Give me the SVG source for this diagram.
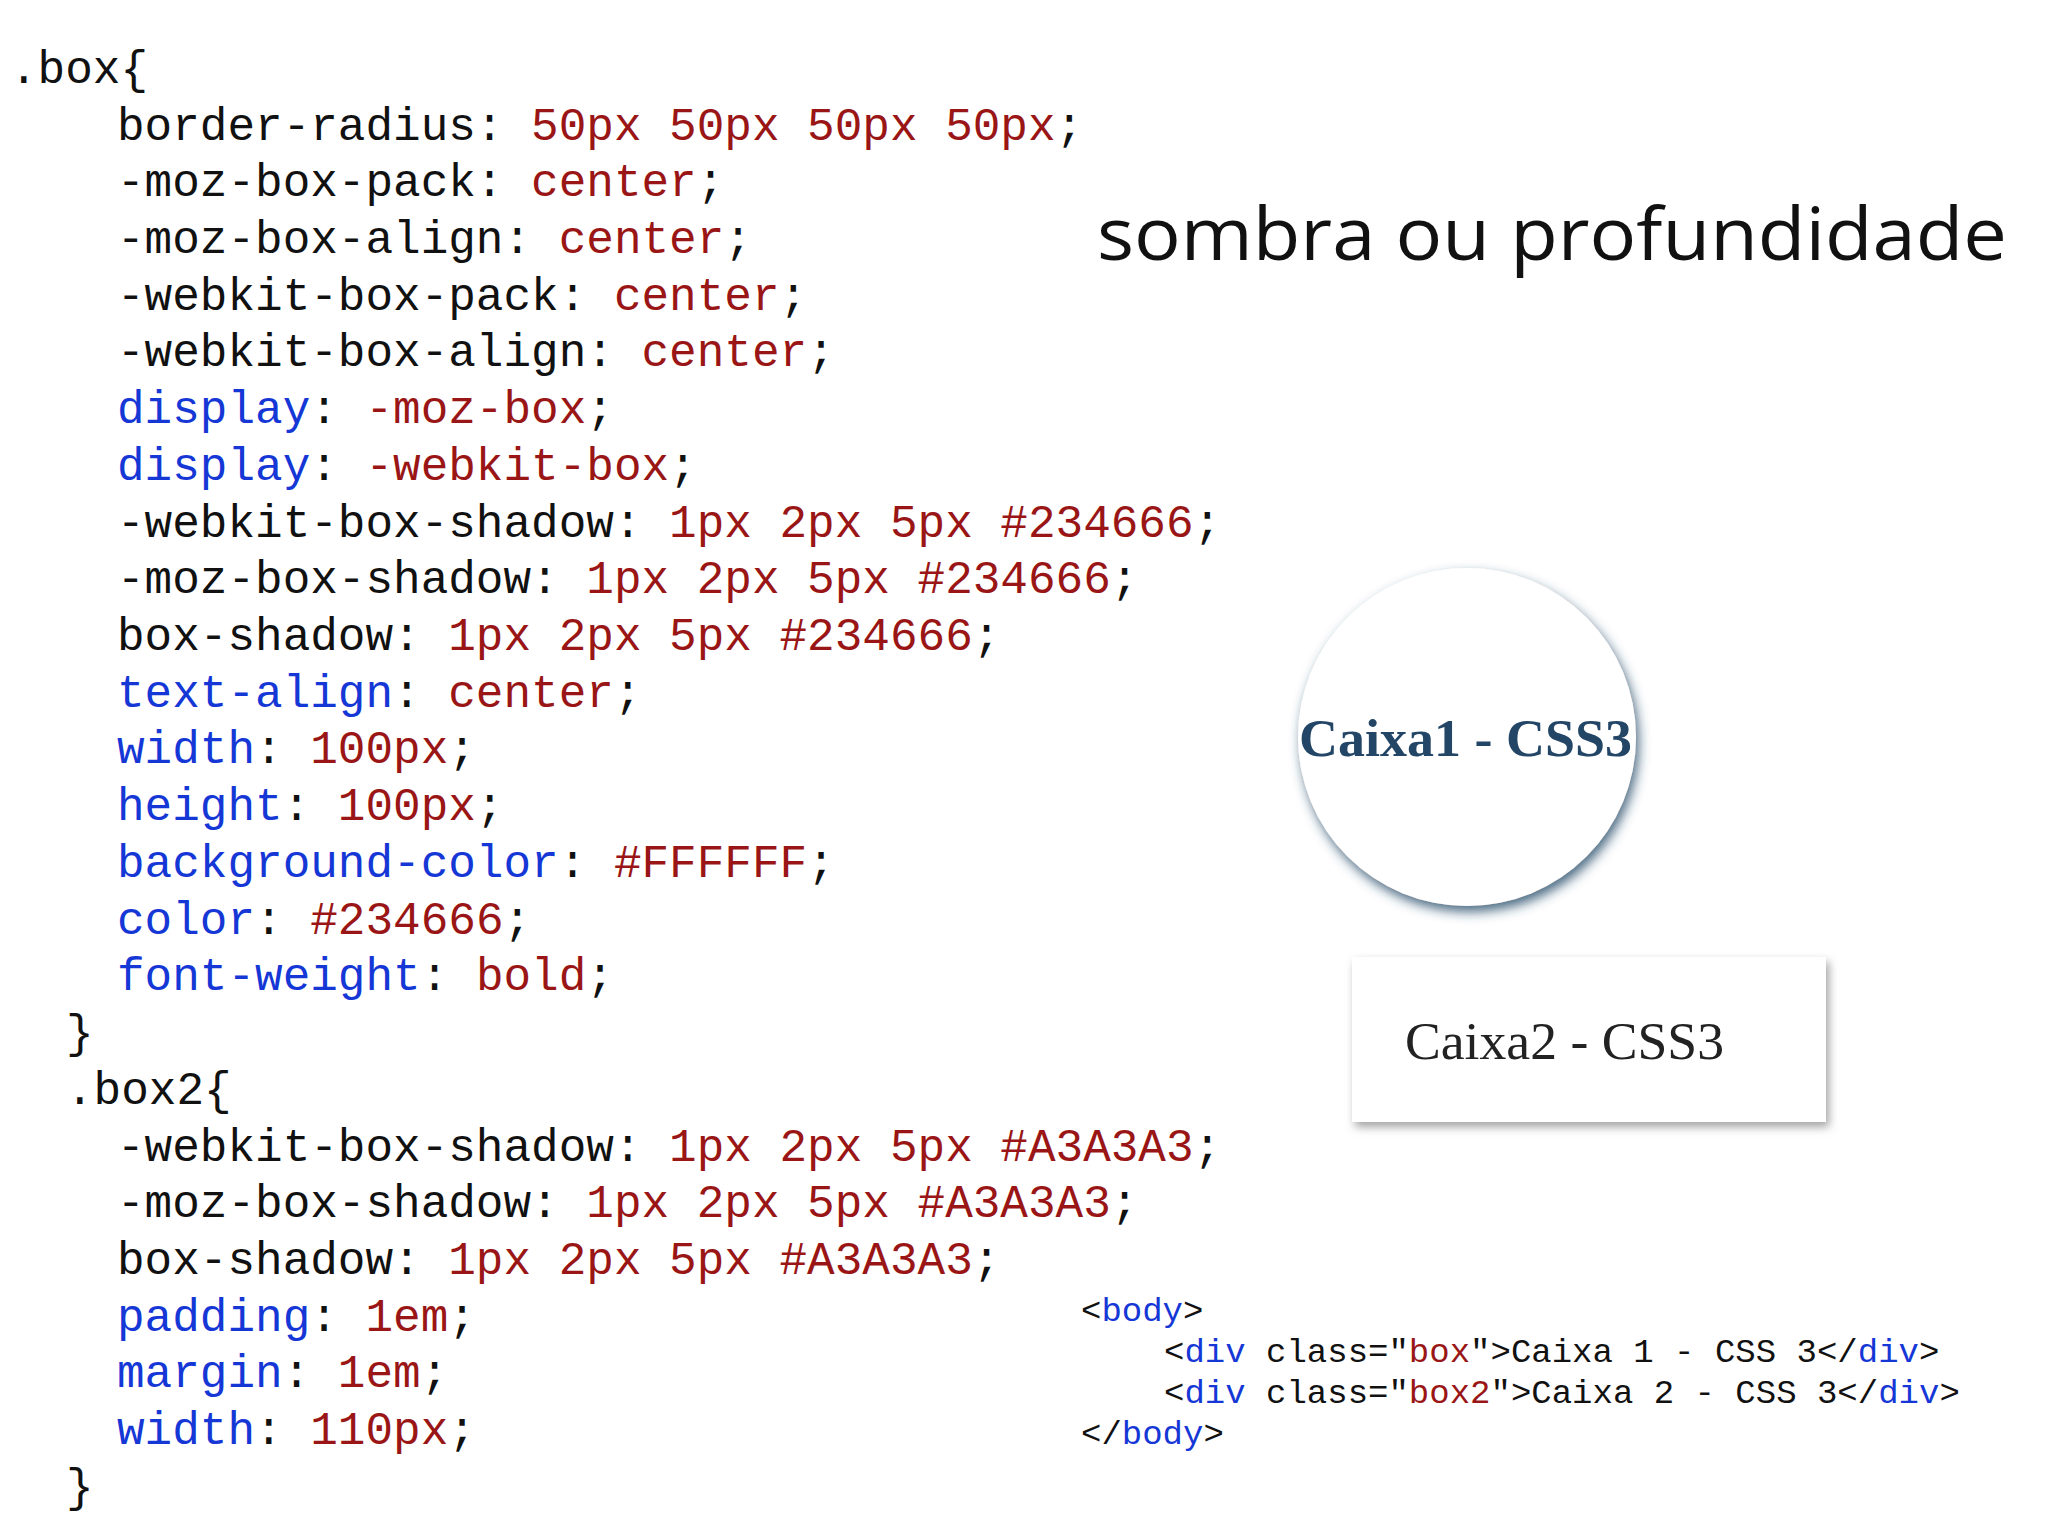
<svg xmlns="http://www.w3.org/2000/svg" width="2048" height="1536" viewBox="0 0 2048 1536">
<defs>
<style>
.c{font-family:"Liberation Mono","DejaVu Sans Mono",monospace;font-size:46px;fill:#111}
.h{font-family:"Liberation Mono","DejaVu Sans Mono",monospace;font-size:34px;fill:#111}
.r{fill:#9a1616}.b{fill:#1537d6}
</style>
<filter id="sh" x="-20%" y="-20%" width="140%" height="140%"><feDropShadow dx="3" dy="6" stdDeviation="6" flood-color="#234666" flood-opacity="0.8"/></filter>
<filter id="sh2" x="-20%" y="-20%" width="140%" height="140%"><feDropShadow dx="3" dy="5" stdDeviation="5" flood-color="#a3a3a3"/></filter>
</defs>
<rect width="2048" height="1536" fill="#fff"/>
<g id="css" transform="translate(-3,-3)">
<text class="c" x="13" y="86" xml:space="preserve">.box{</text>
<text class="c" x="120" y="143" xml:space="preserve">border-radius: <tspan class="r">50px 50px 50px 50px</tspan>;</text>
<text class="c" x="120" y="199" xml:space="preserve">-moz-box-pack: <tspan class="r">center</tspan>;</text>
<text class="c" x="120" y="256" xml:space="preserve">-moz-box-align: <tspan class="r">center</tspan>;</text>
<text class="c" x="120" y="313" xml:space="preserve">-webkit-box-pack: <tspan class="r">center</tspan>;</text>
<text class="c" x="120" y="369" xml:space="preserve">-webkit-box-align: <tspan class="r">center</tspan>;</text>
<text class="c" x="120" y="426" xml:space="preserve"><tspan class="b">display</tspan>: <tspan class="r">-moz-box</tspan>;</text>
<text class="c" x="120" y="483" xml:space="preserve"><tspan class="b">display</tspan>: <tspan class="r">-webkit-box</tspan>;</text>
<text class="c" x="120" y="540" xml:space="preserve">-webkit-box-shadow: <tspan class="r">1px 2px 5px #234666</tspan>;</text>
<text class="c" x="120" y="596" xml:space="preserve">-moz-box-shadow: <tspan class="r">1px 2px 5px #234666</tspan>;</text>
<text class="c" x="120" y="653" xml:space="preserve">box-shadow: <tspan class="r">1px 2px 5px #234666</tspan>;</text>
<text class="c" x="120" y="710" xml:space="preserve"><tspan class="b">text-align</tspan>: <tspan class="r">center</tspan>;</text>
<text class="c" x="120" y="766" xml:space="preserve"><tspan class="b">width</tspan>: <tspan class="r">100px</tspan>;</text>
<text class="c" x="120" y="823" xml:space="preserve"><tspan class="b">height</tspan>: <tspan class="r">100px</tspan>;</text>
<text class="c" x="120" y="880" xml:space="preserve"><tspan class="b">background-color</tspan>: <tspan class="r">#FFFFFF</tspan>;</text>
<text class="c" x="120" y="937" xml:space="preserve"><tspan class="b">color</tspan>: <tspan class="r">#234666</tspan>;</text>
<text class="c" x="120" y="993" xml:space="preserve"><tspan class="b">font-weight</tspan>: <tspan class="r">bold</tspan>;</text>
<text class="c" x="69" y="1050" xml:space="preserve">}</text>
<text class="c" x="69" y="1107" xml:space="preserve">.box2{</text>
<text class="c" x="120" y="1164" xml:space="preserve">-webkit-box-shadow: <tspan class="r">1px 2px 5px #A3A3A3</tspan>;</text>
<text class="c" x="120" y="1220" xml:space="preserve">-moz-box-shadow: <tspan class="r">1px 2px 5px #A3A3A3</tspan>;</text>
<text class="c" x="120" y="1277" xml:space="preserve">box-shadow: <tspan class="r">1px 2px 5px #A3A3A3</tspan>;</text>
<text class="c" x="120" y="1334" xml:space="preserve"><tspan class="b">padding</tspan>: <tspan class="r">1em</tspan>;</text>
<text class="c" x="120" y="1390" xml:space="preserve"><tspan class="b">margin</tspan>: <tspan class="r">1em</tspan>;</text>
<text class="c" x="120" y="1447" xml:space="preserve"><tspan class="b">width</tspan>: <tspan class="r">110px</tspan>;</text>
<text class="c" x="69" y="1504" xml:space="preserve">}</text>
</g>
<g id="title"><text x="1097" y="260" font-family="'Open Sans','Liberation Sans',sans-serif" font-size="73" fill="#111" textLength="910" lengthAdjust="spacingAndGlyphs">sombra ou profundidade</text></g>
<g id="box1">
<circle cx="1467" cy="737" r="169" fill="#fff" filter="url(#sh)"/>
<text x="1299" y="756" font-family="'Liberation Serif',serif" font-weight="bold" font-size="52" fill="#234666" textLength="333" lengthAdjust="spacingAndGlyphs">Caixa1 - CSS3</text>
</g>
<g id="box2">
<rect x="1352" y="957" width="474" height="165" fill="#fff" filter="url(#sh2)"/>
<text x="1405" y="1059" font-family="'Liberation Serif',serif" font-size="52" fill="#222" textLength="319" lengthAdjust="spacingAndGlyphs">Caixa2 - CSS3</text>
</g>
<g id="html" transform="translate(-12,-12)">
<text class="h" x="1093" y="1333" xml:space="preserve">&lt;<tspan class="b">body</tspan>&gt;</text>
<text class="h" x="1176" y="1374" xml:space="preserve">&lt;<tspan class="b">div</tspan> class="<tspan class="r">box</tspan>"&gt;Caixa 1 - CSS 3&lt;/<tspan class="b">div</tspan>&gt;</text>
<text class="h" x="1176" y="1415" xml:space="preserve">&lt;<tspan class="b">div</tspan> class="<tspan class="r">box2</tspan>"&gt;Caixa 2 - CSS 3&lt;/<tspan class="b">div</tspan>&gt;</text>
<text class="h" x="1093" y="1456" xml:space="preserve">&lt;/<tspan class="b">body</tspan>&gt;</text>
</g>
</svg>
